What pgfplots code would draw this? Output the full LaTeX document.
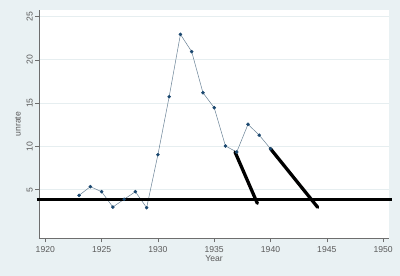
\documentclass[border=0pt]{standalone}
\usepackage{pgfplots}
\pgfplotsset{compat=1.18}
\usepackage{fontspec}
\setmainfont{Liberation Sans}
\definecolor{bgc}{RGB}{233,241,243}
\definecolor{gridc}{RGB}{230,238,240}
\definecolor{navyc}{RGB}{26,71,111}
\definecolor{linec}{RGB}{105,130,150}
\definecolor{axc}{RGB}{110,110,110}
\definecolor{txc}{RGB}{90,90,90}
\begin{document}
\begin{tikzpicture}[x=1pt,y=1pt]
\fill[bgc] (0,0) rectangle (400,276);
\begin{axis}[
  at={(39pt,37.7pt)}, anchor=south west,
  scale only axis, width=350.3pt, height=228.3pt,
  xmin=1919.44, xmax=1950.55, ymin=-0.61, ymax=25.75,
  clip=false,
  axis x line=bottom, axis y line=left,
  axis line style={-, axc, line width=0.6pt},
  axis background/.style={fill=white},
  xtick={1920,1925,...,1950}, ytick={5,10,...,25},
  tick align=outside, major tick length=4pt,
  tick style={axc, line width=0.5pt},
  ymajorgrids, grid style={gridc, line width=0.6pt},
  /pgf/number format/assume math mode=true,
  /pgf/number format/1000 sep={},
  ticklabel style={font=\fontsize{8.6}{10}\selectfont, text=txc},
  yticklabel style={rotate=90, anchor=south, inner sep=2pt},
  xticklabel style={anchor=north, inner sep=3.5pt},
  xlabel={Year}, ylabel={unrate},
  label style={font=\fontsize{8.6}{10}\selectfont, text=txc},
  xlabel style={at={(axis description cs:0.5,-0.0905)}, anchor=center},
  ylabel style={at={(axis description cs:-0.06,0.5)}, anchor=center},
]
\addplot[linec, line width=0.5pt, mark=*, mark size=1.5pt,
  mark options={fill=navyc, draw=navyc}] coordinates {
  (1923,4.35) (1924,5.35) (1925,4.77) (1926,3.0) (1927,3.9) (1928,4.77)
  (1929,2.92) (1930,9.04) (1931,15.74) (1932,22.94) (1933,20.94)
  (1934,16.2) (1935,14.47) (1936,10.05) (1937,9.35) (1938,12.55)
  (1939,11.3) (1940,9.73)};
\addplot[black, line width=3.3pt] coordinates {(1919.24,3.85) (1950.76,3.85)};
\addplot[black, line width=3.3pt, line cap=round] coordinates {(1936.85,9.35) (1938.83,3.43)};
\addplot[black, line width=3.3pt, line cap=round] coordinates {(1940,9.73) (1944.19,2.97)};
\end{axis}
\end{tikzpicture}
\end{document}
